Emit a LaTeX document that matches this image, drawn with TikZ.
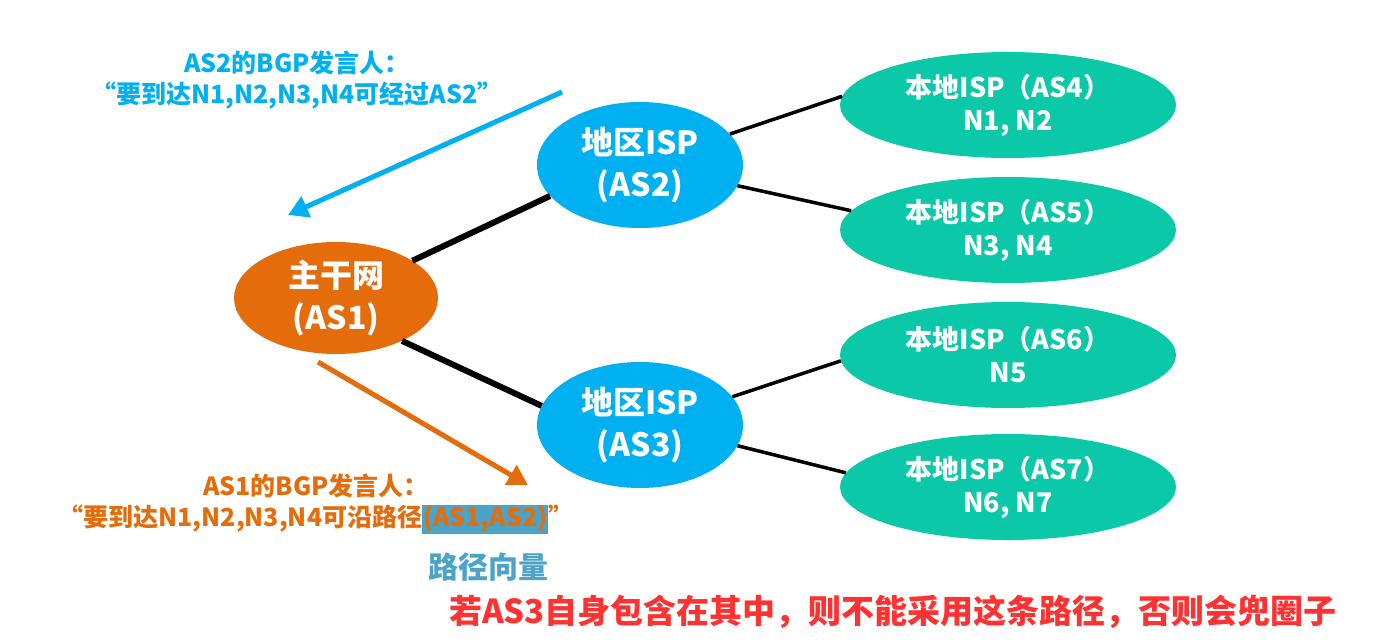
\documentclass[tikz,border=0pt]{standalone}
\usepackage{fontspec}
\setmainfont{Noto Sans CJK SC}
\usetikzlibrary{shapes.geometric,arrows.meta}
\definecolor{coreorange}{RGB}{228,108,10}
\definecolor{regionblue}{RGB}{0,176,240}
\definecolor{localgreen}{RGB}{10,200,168}
\definecolor{vecblue}{RGB}{75,163,200}
\definecolor{warnred}{RGB}{255,50,50}
\begin{document}
\begin{tikzpicture}[x=1pt,y=-1pt,
    core/.style={ellipse,fill=coreorange,text=white,minimum width=204pt,minimum height=112pt,inner sep=0pt,align=center,font=\fontsize{32}{42}\selectfont\bfseries},
    region/.style={ellipse,fill=regionblue,text=white,minimum width=206pt,minimum height=126pt,inner sep=0pt,align=center,font=\fontsize{32}{42}\selectfont\bfseries},
    localisp/.style={ellipse,fill=localgreen,text=white,minimum width=336pt,minimum height=106pt,inner sep=0pt,align=center,font=\fontsize{27}{33}\selectfont\bfseries},
    trunk/.style={line width=6pt},
    branch/.style={line width=3.5pt},
    note/.style={align=center,inner sep=0pt,font=\fontsize{25}{31}\selectfont\bfseries}]
  \useasboundingbox (0,0) rectangle (1383,644);
  % autonomous systems
  \node[core] (as1) at (336,298) {主干网\\(AS1)};
  \node[region] (as2) at (640,165) {地区ISP\\(AS2)};
  \node[region] (as3) at (640,425) {地区ISP\\(AS3)};
  \node[localisp] (as4) at (1008,105) {本地ISP（AS4）\\N1, N2};
  \node[localisp] (as5) at (1008,230) {本地ISP（AS5）\\N3, N4};
  \node[localisp] (as6) at (1008,355) {本地ISP（AS6）\\N5};
  \node[localisp] (as7) at (1008,487) {本地ISP（AS7）\\N6, N7};
  % links
  \draw[trunk] (as1.26) -- (as2.199);
  \draw[trunk] (as1.-33) -- (as3.169);
  \draw[branch] (as2.19) -- (as4.177);
  \draw[branch] (as2.-12) -- (as5.173);
  \draw[branch] (as3.17) -- (as6.182);
  \draw[branch] (as3.-12) -- (as7.175);
  % announcements
  \node[note,text=regionblue] (adv2) at (297,80) {AS2的BGP发言人：\\“要到达N1,N2,N3,N4可经过AS2”};
  \coordinate (b0) at (562,92);
  \coordinate (b1) at (288,215);
  \draw[regionblue,line width=5pt,-{Triangle[length=20pt,width=22pt]}] (b0) -- (b1);
  \coordinate (o0) at (318,362);
  \coordinate (o1) at (528,485);
  \draw[coreorange,line width=5pt,-{Triangle[length=20pt,width=22pt]}] (o0) -- (o1);
  \node[note,text=coreorange] (adv1) at (316,504) {AS1的BGP发言人：\\“要到达N1,N2,N3,N4可沿路径{\setlength\fboxsep{1pt}\colorbox{vecblue}{(AS1,AS2)}}”};
  \node[inner sep=0pt,text=vecblue,font=\fontsize{30}{36}\selectfont\bfseries] (vec) at (488,567) {路径向量};
  \node[inner sep=0pt,text=warnred,font=\fontsize{33}{40}\selectfont\bfseries] (warn) at (893,612) {若AS3自身包含在其中，则不能采用这条路径，否则会兜圈子};
\end{tikzpicture}
\end{document}
